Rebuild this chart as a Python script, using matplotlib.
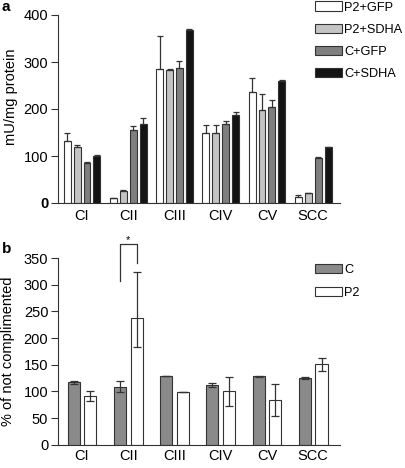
import numpy as np
import matplotlib
matplotlib.use("Agg")
import matplotlib.pyplot as plt

plt.rcParams['font.family'] = ['Liberation Sans', 'DejaVu Sans']

complexes = ['CI', 'CII', 'CIII', 'CIV', 'CV', 'SCC']

# panel a: activity, mU/mg protein
a_series = ['P2+GFP', 'P2+SDHA', 'C+GFP', 'C+SDHA']
a_colors = ['#ffffff', '#c4c4c4', '#7f7f7f', '#141414']
a_vals = [
    [131, 10, 286, 148, 236, 13],
    [119, 25, 284, 148, 197, 21],
    [86, 155, 288, 169, 204, 95],
    [101, 169, 369, 188, 260, 119],
]
a_errs = [
    [19, 1, 69, 19, 29, 3],
    [5, 2, 1, 19, 35, 1],
    [1, 8, 14, 6, 15, 3],
    [1, 11, 1, 5, 1, 1],
]

# panel b: % of not complemented
b_series = ['C', 'P2']
b_colors = ['#8a8a8a', '#ffffff']
b_vals = [
    [117, 109, 129, 112, 128, 125],
    [91, 238, 99, 100, 84, 151],
]
b_err_lo = [
    [3, 10, 0.5, 3, 0.5, 2],
    [9, 54, 0.5, 27, 30, 12],
]
b_err_hi = [
    [3, 10, 0.5, 3, 0.5, 2],
    [9, 86, 0.5, 27, 30, 12],
]

fig = plt.figure(figsize=(4.06, 4.68), dpi=100)
W, H = 406, 468
ax1 = fig.add_axes([58 / W, 1 - 203 / H, 282 / W, 188 / H])
ax2 = fig.add_axes([58 / W, 1 - 444.7 / H, 282 / W, 186.7 / H])

x = np.arange(len(complexes))
leg_kw = dict(loc='upper left', frameon=False, fontsize=9.2, handlelength=2.1,
              handleheight=0.72, handletextpad=0.2, borderaxespad=0, borderpad=0,
              bbox_transform=fig.transFigure)

# panel a
step, width = 0.215, 0.15
for i, (name, col) in enumerate(zip(a_series, a_colors)):
    ax1.bar(x + (i - 1.5) * step, a_vals[i], width, color=col, edgecolor='#333333',
            linewidth=0.8, label=name,
            yerr=[np.zeros(6), a_errs[i]], error_kw=dict(ecolor='#333333', elinewidth=0.9,
                                                          capsize=2.2, capthick=0.9))
ax1.set_ylim(0, 400)
ax1.set_yticks([0, 100, 200, 300, 400])
ax1.set_ylabel('mU/mg protein', fontsize=10.5)
ax1.yaxis.set_label_coords(-0.142, 0.565)
ax1.legend(bbox_to_anchor=(315 / W, 1 - 1.5 / H), labelspacing=0.8, **leg_kw)

# panel b
bstep, bwidth = 0.18, 0.26
for i, (name, col) in enumerate(zip(b_series, b_colors)):
    ax2.bar(x + (i - 0.5) * 2 * bstep, b_vals[i], bwidth, color=col, edgecolor='#333333',
            linewidth=0.8, label=name,
            yerr=[b_err_lo[i], b_err_hi[i]], error_kw=dict(ecolor='#333333', elinewidth=0.9,
                                                           capsize=3, capthick=0.9))
ax2.set_ylim(0, 350)
ax2.set_yticks(np.arange(0, 351, 50))
ax2.set_ylabel('% of not complimented', fontsize=10.5)
ax2.yaxis.set_label_coords(-0.152, 0.5)
ax2.legend(bbox_to_anchor=(315 / W, 1 - 263.5 / H), labelspacing=0.92, **leg_kw)

# significance bracket for CII
xl, xr = 1 - bstep, 1 + bstep
ax2.plot([xl, xl, xr, xr], [307, 376, 376, 341], color='#333333', lw=0.9, clip_on=False)
ax2.text((xl + xr) / 2, 374, '*', ha='center', va='bottom', fontsize=8, clip_on=False)

for ax, pad in ((ax1, 4.5), (ax2, 3)):
    ax.set_xlim(-0.52, 5.58)
    ax.set_xticks(x)
    ax.set_xticklabels(complexes)
    ax.spines['top'].set_visible(False)
    ax.spines['right'].set_visible(False)
    ax.spines['left'].set_color('#333333')
    ax.spines['bottom'].set_color('#333333')
    ax.tick_params(axis='x', length=0, pad=pad, labelsize=10.5)
    ax.tick_params(axis='y', length=5, width=0.8, pad=2, color='#333333', labelsize=10.5)

ax1.get_yticklabels()[0].set_fontweight('bold')

fig.text(2 / W, 1 - 7 / H, 'a', fontsize=11, fontweight='bold', va='center', ha='left')
fig.text(2 / W, 1 - 249 / H, 'b', fontsize=11, fontweight='bold', va='center', ha='left')

fig.savefig('out.png', dpi=100)
